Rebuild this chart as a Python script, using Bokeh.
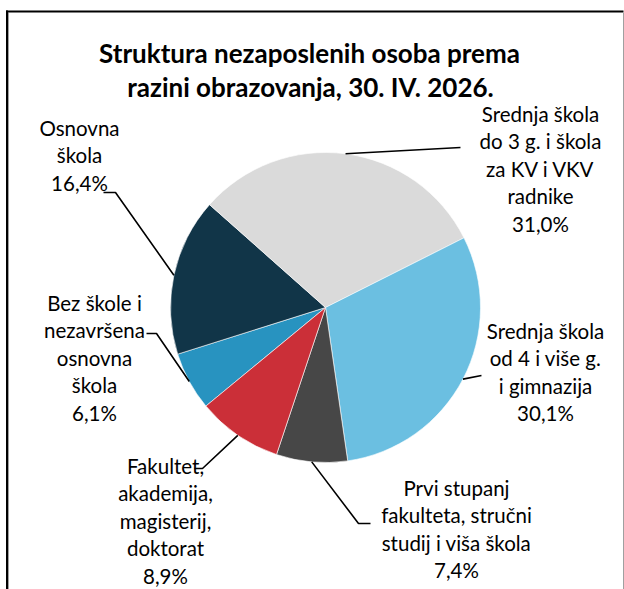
import numpy as np
from bokeh.plotting import figure
from bokeh.models import Range1d
from bokeh.core.properties import value
from bokeh.embed import file_html
from bokeh.resources import INLINE

# ---------------- data ----------------
categories = [
    "Bez škole i\nnezavršena\nosnovna\nškola",
    "Osnovna\nškola",
    "Srednja škola\ndo 3 g. i škola\nza KV i VKV\nradnike",
    "Srednja škola\nod 4 i više g.\ni gimnazija",
    "Prvi stupanj\nfakulteta, stručni\nstudij i viša škola",
    "Fakultet,\nakademija,\nmagisterij,\ndoktorat",
]
shares = [6.1, 16.4, 31.0, 30.1, 7.4, 8.9]
colors = ["#2893c0", "#113548", "#dadada", "#6bbfe1", "#474747", "#cb2f38"]
title_lines = ["Struktura nezaposlenih osoba prema", "razini obrazovanja, 30. IV. 2026."]

# ---------------- layout ----------------
W, H = 624, 589
FONT = "Lato"
def Y(py):  # pixel row -> data y
    return H - py

cx, cy, R = 325, Y(307), 155
start_deg = 219.5  # first slice starts here, slices go clockwise

# label anchors: (center x, first line pixel y)
label_pos = [(94, 302), (79, 127), (540, 113), (545, 330), (456, 487), (165, 465)]
line_gap = 27.5
# leader line label-side points (pixel coords)
leader_pts = [
    [(146, 333), (156, 333)],
    [(103, 192), (115, 192)],
    [(460, 147)],
    [(481, 375)],
    [(370, 523), (358, 523)],
    [(194, 468), (202, 468)],
]

p = figure(width=W, height=H, output_backend="svg", toolbar_location=None,
           x_range=Range1d(0, W), y_range=Range1d(0, H),
           min_border=0, outline_line_color=None)
p.axis.visible = False
p.grid.visible = False
p.background_fill_color = "white"
p.border_fill_color = "white"

fr = np.array(shares) / np.sum(shares)
ends = np.cumsum(fr)
starts = ends - fr
a_start = np.deg2rad(start_deg) - 2 * np.pi * starts  # clockwise
a_end = np.deg2rad(start_deg) - 2 * np.pi * ends
mids = (a_start + a_end) / 2

p.wedge(x=[cx] * len(shares), y=[cy] * len(shares), radius=R,
        start_angle=list(a_end), end_angle=list(a_start),
        fill_color=colors, line_color="white", line_width=0.6)

# leader lines
xs, ys = [], []
for m, pts in zip(mids, leader_pts):
    ex, ey = cx + R * np.cos(m), cy + R * np.sin(m)
    lx = [ex] + [q[0] for q in reversed(pts)]
    ly = [ey] + [Y(q[1]) for q in reversed(pts)]
    xs.append(lx)
    ys.append(ly)
p.multi_line(xs=xs, ys=ys, line_color="black", line_width=1.6)

# labels
tx, ty, tt = [], [], []
for cat, v, (lx, ly) in zip(categories, shares, label_pos):
    lines = cat.split("\n") + [f"{v:.1f}%".replace(".", ",")]
    for i, s in enumerate(lines):
        tx.append(lx)
        ty.append(Y(ly + i * line_gap))
        tt.append(s)
p.text(x=tx, y=ty, text=tt, text_align="center", text_baseline="middle",
       text_font=value(FONT), text_font_size="20.5px", text_color="black")

# title
p.text(x=[309, 310], y=[Y(52), Y(86)], text=title_lines, text_align="center",
       text_baseline="middle", text_font=value(FONT), text_font_size="26px",
       text_font_style="bold", text_color="black")

# chart frame
p.line(x=[6.5, 6.5], y=[-5, Y(10)], line_color="black", line_width=2)
p.line(x=[8, 8], y=[-5, Y(12)], line_color="#a0a0a0", line_width=1)
p.line(x=[5.5, 623], y=[Y(11), Y(11)], line_color="black", line_width=2)
p.line(x=[623, 623], y=[Y(12), -5], line_color="#a0a0a0", line_width=1)

open("out.html", "w").write(file_html(p, INLINE))
